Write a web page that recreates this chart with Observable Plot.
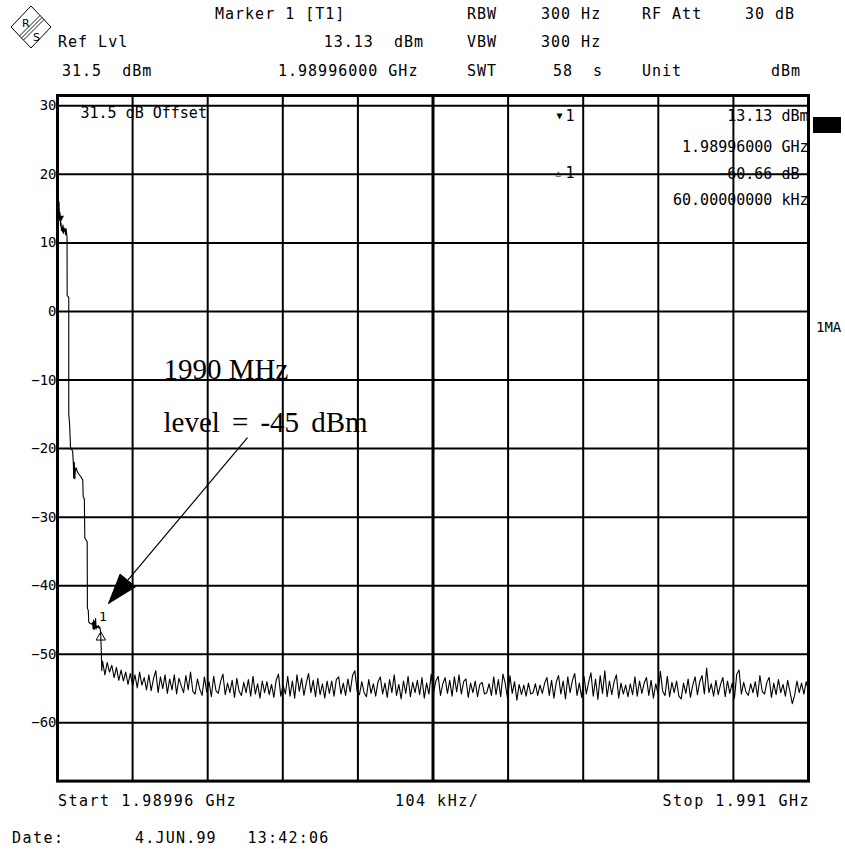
<!DOCTYPE html>
<html>
<head>
<meta charset="utf-8">
<script src="https://cdn.jsdelivr.net/npm/d3@7"></script>
<script src="https://cdn.jsdelivr.net/npm/@observablehq/plot@0.6"></script>
<style>
  html, body { margin: 0; padding: 0; background: #fff; }
  #page { position: relative; width: 845px; height: 849px; overflow: hidden; background: #fff; }
  #chart { position: absolute; left: 0; top: 85px; }
  #layer { position: absolute; left: 0; top: 0; width: 845px; height: 849px; pointer-events: none; }
  #layer span { position: absolute; white-space: pre; color: #000; }
  g[aria-label="readout"] text { letter-spacing: 1px; }
</style>
</head>
<body>
<div id="page">
  <div id="chart"></div>
  <div id="layer"></div>
</div>
<script>
// ---------------- data ----------------
const START_GHZ = 1.98996;
const STOP_GHZ = 1.991;
const SPAN_KHZ = 1040;          // 104 kHz / div
const REF_LVL_DBM = 31.5;
const RANGE_DB = 100;

const yTicks = [30, 20, 10, 0, -10, -20, -30, -40, -50, -60];
const xDivisionsKHz = [0, 104, 208, 312, 416, 520, 624, 728, 832, 936, 1040];
const centerDivKHz = [520];

// carrier roll-off near the start frequency (offset from start, kHz / level, dBm)
const rolloffKHz = [0, 0.7, 1.4, 2.1, 2.8, 3.5, 4.2, 4.9, 5.5, 6.2, 6.9, 7.6, 8.3, 9.0, 9.7, 10.4, 11.1, 11.8, 12.5, 13.2,
  13.4, 14.5, 15.6, 15.6, 16.8, 18.0, 19.5, 21.0, 22.0, 22.4, 23.2, 24.0, 24.8, 25.8, 27.5, 29.5, 31.5, 33.5, 35.0,
  35.6, 37.2, 37.8, 40.0, 41.1, 41.4, 42.6, 43.3, 45.0, 47.0, 48.6, 49.3, 50.0, 50.7, 51.4, 52.1, 52.8, 53.5, 54.5,
  55.5, 56.5, 57.5, 58.5, 59.4, 60.0, 60.6, 61.3];
const rolloffDbm = [14.0, 17.0, 13.13, 16.0, 13.6, 14.4, 12.5, 12.9, 11.8, 12.3, 11.6, 12.6, 11.4, 12.2, 11.7, 12.0, 11.2, 12.1, 11.5, 10.8,
  2.3, 2.2, 2.0, -15.0, -16.5, -19.8, -20.1, -20.4, -22.3, -24.3, -22.0, -24.4, -23.0, -22.8, -23.4, -23.7, -24.0, -24.3, -24.6,
  -27.0, -27.4, -33.0, -33.4, -33.6, -43.3, -43.6, -45.3, -45.5, -45.6, -45.4, -46.3, -45.0, -46.4, -45.2, -46.2, -44.8, -46.3, -45.9,
  -46.1, -45.8, -46.2, -46.0, -46.5, -47.53, -49.5, -52.4];

// noise floor, sweep points from 62.4 kHz to the stop frequency (dBm)
const noiseStartKHz = 62.4;
const noiseDbm = [
  -51.0,-53.0,-51.2,-52.6,-51.6,-53.4,-51.9,-53.8,-52.3,-53.9,
  -52.6,-54.4,-52.8,-54.6,-53.0,-54.9,-52.6,-54.5,-53.4,-55.2,
  -53.0,-55.3,-53.6,-52.4,-55.6,-53.3,-55.0,-53.0,-55.7,-53.6,
  -55.2,-53.0,-55.8,-53.5,-54.6,-55.6,-53.1,-55.2,-52.6,-55.4,
  -55.8,-53.6,-55.1,-56.0,-53.3,-55.5,-54.0,-56.2,-53.2,-55.3,
  -55.7,-54.0,-52.9,-55.9,-54.2,-55.6,-53.8,-56.3,-53.5,-55.4,
  -56.0,-54.1,-55.6,-53.7,-56.1,-53.2,-55.8,-54.3,-56.4,-53.9,
  -55.6,-54.0,-55.9,-54.4,-56.3,-53.8,-52.9,-56.1,-54.5,-55.8,
  -53.2,-56.1,-53.9,-56.4,-53.0,-55.4,-53.5,-56.0,-54.2,-52.8,
  -55.6,-53.8,-56.2,-53.5,-55.9,-54.3,-56.4,-53.9,-55.7,-53.9,
  -56.1,-53.7,-53.3,-55.8,-54.2,-56.0,-53.6,-55.5,-53.1,-52.4,
  -55.4,-55.9,-54.0,-55.6,-56.2,-53.7,-55.7,-54.3,-56.1,-54.0,
  -53.3,-55.8,-54.2,-56.3,-53.7,-55.6,-53.0,-56.0,-54.4,-56.5,
  -53.9,-55.7,-53.2,-56.2,-54.1,-55.6,-53.8,-55.9,-53.4,-56.4,
  -54.2,-55.8,-52.9,-55.6,-53.9,-53.2,-56.0,-54.3,-53.4,-55.7,
  -53.8,-56.1,-53.3,-55.5,-53.0,-55.8,-54.0,-53.6,-56.3,-54.2,
  -55.6,-53.9,-56.2,-54.4,-54.1,-55.8,-55.6,-54.3,-56.0,-53.3,
  -55.9,-53.7,-56.2,-52.9,-54.3,-56.5,-53.1,-55.7,-54.0,-56.7,
  -54.4,-55.9,-54.5,-56.1,-54.2,-55.8,-55.6,-54.3,-56.0,-54.5,
  -55.7,-54.2,-53.4,-56.0,-53.8,-56.4,-54.1,-53.1,-55.8,-53.9,
  -56.5,-53.3,-55.6,-53.8,-52.8,-56.0,-54.2,-56.3,-53.2,-55.8,
  -54.1,-52.7,-56.1,-53.6,-56.6,-53.1,-55.7,-52.4,-56.2,-53.9,
  -55.9,-54.0,-53.0,-56.4,-54.2,-55.8,-54.5,-56.2,-54.3,-55.9,
  -53.3,-56.1,-53.9,-55.7,-54.2,-53.4,-56.0,-53.8,-56.4,-54.3,
  -55.8,-52.5,-55.4,-56.0,-53.2,-56.2,-54.1,-55.6,-53.9,-56.1,
  -56.5,-54.2,-55.7,-53.6,-56.3,-54.5,-53.3,-55.9,-54.0,-53.1,
  -55.8,-52.0,-55.6,-54.3,-56.1,-53.8,-55.9,-54.4,-53.4,-56.2,
  -53.9,-55.7,-54.2,-56.4,-52.9,-52.3,-55.8,-54.1,-55.5,-56.0,
  -54.3,-55.6,-54.0,-56.2,-53.1,-55.4,-55.8,-54.1,-53.4,-56.3,
  -54.2,-55.9,-53.7,-55.6,-54.4,-56.1,-53.8,-55.5,-57.2,-56.0,
  -53.9,-55.6,-54.2,-55.8,-54.0,-55.4
];

// markers
const marker1 = {kHz: 0, dbm: 13.13, freqText: "1.98996000 GHz"};
const delta1 = {kHz: 60, db: -60.66, freqText: "60.00000000 kHz"};

// annotation (offset kHz / dBm)
const noteLine1 = "1990 MHz";
const noteLine2 = "level = -45 dBm";
const noteAnchor1 = [{kHz: 146.8, dbm: -9.8}];
const noteAnchor2 = [{kHz: 146.8, dbm: -17.65}];
const arrowShaft = [{x1: 263.1, y1: -18.4, x2: 97.4, y2: -39.2}];
const arrowHead = [{kHz: 70.6, dbm: -42.6}, {kHz: 108.0, dbm: -40.17}, {kHz: 86.7, dbm: -38.31}, {kHz: 70.6, dbm: -42.6}];

// ---------------- build ----------------
const noiseStep = (SPAN_KHZ - noiseStartKHz) / (noiseDbm.length - 1);
const trace = rolloffKHz.map((f, i) => ({f, v: rolloffDbm[i]}))
  .concat(noiseDbm.map((v, i) => ({f: noiseStartKHz + i * noiseStep, v})));

const innerDivs = xDivisionsKHz.filter(d => d > 0 && d < SPAN_KHZ && !centerDivKHz.includes(d));
const fmt2 = d3.format(".2f");
const minus = s => s.replace("-", "\u2212");
const wide = s => s.replace(/ /g, "\u2004\u200A");   // the typed annotation uses wider word gaps
const mono = "'DejaVu Sans Mono', monospace";
const serif = "'Liberation Serif', 'Times New Roman', serif";

const chart = Plot.plot({
  width: 845,
  height: 700,
  marginTop: 10,
  marginBottom: 4.4,
  marginLeft: 57,
  marginRight: 37,
  x: {domain: [0, SPAN_KHZ], axis: null},
  y: {domain: [REF_LVL_DBM - RANGE_DB, REF_LVL_DBM], ticks: yTicks, tickSize: 0, tickPadding: 1, label: null},
  style: {fontFamily: mono, fontSize: "14px", background: "white", color: "black", overflow: "visible"},
  marks: [
    Plot.ruleY(yTicks, {stroke: "black", strokeWidth: 2}),
    Plot.ruleX(innerDivs, {stroke: "black", strokeWidth: 2}),
    Plot.ruleX(centerDivKHz, {stroke: "black", strokeWidth: 3}),
    Plot.frame({stroke: "black", strokeWidth: 3}),
    Plot.line(trace, {x: "f", y: "v", stroke: "black", strokeWidth: 1.1}),
    // marker 1 (filled, pointing down)
    Plot.text([marker1], {x: "kHz", y: "dbm", text: () => "\u25BC", fontSize: 11, lineAnchor: "bottom", dx: 3, dy: 1}),
    // delta marker 1 (outline triangle) + label
    Plot.dot([delta1], {x: "kHz", y: d => marker1.dbm + d.db, symbol: "triangle", r: 3.5, stroke: "black", fill: "none", strokeWidth: 1}),
    Plot.text([delta1], {x: "kHz", y: d => marker1.dbm + d.db, text: () => "1", fontSize: 13, lineAnchor: "bottom", dx: 2, dy: -16, ariaLabel: "readout"}),
    // in-frame readouts
    Plot.text([`${REF_LVL_DBM} dB Offset`], {frameAnchor: "top-left", text: d => d, fontSize: 15, textAnchor: "start", lineAnchor: "bottom", dx: 23, dy: 22, ariaLabel: "readout"}),
    Plot.text(["\u25BC"], {frameAnchor: "top-left", text: d => d, fontSize: 10, textAnchor: "start", lineAnchor: "bottom", dx: 499, dy: 23}),
    Plot.text(["1"], {frameAnchor: "top-left", text: d => d, fontSize: 15, textAnchor: "start", lineAnchor: "bottom", dx: 508, dy: 25.5, ariaLabel: "readout"}),
    Plot.text(["\u25B3"], {frameAnchor: "top-left", text: d => d, fontSize: 9, textAnchor: "start", lineAnchor: "bottom", dx: 498, dy: 80}),
    Plot.text(["1"], {frameAnchor: "top-left", text: d => d, fontSize: 15, textAnchor: "start", lineAnchor: "bottom", dx: 508, dy: 82, ariaLabel: "readout"}),
    Plot.text([`${fmt2(marker1.dbm)} dBm`], {frameAnchor: "top-right", text: d => d, fontSize: 15, textAnchor: "end", lineAnchor: "bottom", dx: 0, dy: 25.5, ariaLabel: "readout"}),
    Plot.text([marker1.freqText], {frameAnchor: "top-right", text: d => d, fontSize: 15, textAnchor: "end", lineAnchor: "bottom", dx: 0, dy: 56, ariaLabel: "readout"}),
    Plot.text([`${minus(fmt2(delta1.db))} dB `], {frameAnchor: "top-right", text: d => d, fontSize: 15, textAnchor: "end", lineAnchor: "bottom", dx: 0, dy: 83, ariaLabel: "readout"}),
    Plot.text([delta1.freqText], {frameAnchor: "top-right", text: d => d, fontSize: 15, textAnchor: "end", lineAnchor: "bottom", dx: 0, dy: 109, ariaLabel: "readout"}),
    // annotation
    Plot.text(noteAnchor1, {x: "kHz", y: "dbm", text: () => noteLine1, fontFamily: serif, fontSize: 29, textAnchor: "start", lineAnchor: "bottom", ariaLabel: "annotation"}),
    Plot.text(noteAnchor2, {x: "kHz", y: "dbm", text: () => wide(noteLine2), fontFamily: serif, fontSize: 29, textAnchor: "start", lineAnchor: "bottom", ariaLabel: "annotation"}),
    Plot.link(arrowShaft, {x1: "x1", y1: "y1", x2: "x2", y2: "y2", stroke: "black", strokeWidth: 1.2}),
    Plot.line(arrowHead, {x: "kHz", y: "dbm", stroke: "black", fill: "black", strokeWidth: 1})
  ]
});
document.getElementById("chart").appendChild(chart);

// ---------------- header / footer text ----------------
const layer = document.getElementById("layer");
function put(text, x, base, anchor = "start", size = 15, spacing = 1) {
  const s = document.createElement("span");
  s.textContent = text;
  s.style.fontFamily = mono;
  s.style.fontSize = size + "px";
  s.style.lineHeight = size + "px";
  s.style.letterSpacing = spacing + "px";
  s.style.top = (base - 0.846 * size) + "px";
  if (anchor === "end") s.style.right = (845 - x) + "px"; else s.style.left = x + "px";
  layer.appendChild(s);
}
// header
put("Marker 1 [T1]", 215, 20);
put("RBW", 467, 20);
put("300 Hz", 541, 20);
put("RF Att", 642, 20);
put("30 dB", 745, 20);
put("Ref Lvl", 58, 48);
put(`${fmt2(marker1.dbm)}  dBm`, 424, 48, "end");
put("VBW", 467, 48);
put("300 Hz", 541, 48);
put(`${REF_LVL_DBM}  dBm`, 62, 77);
put(marker1.freqText, 278, 77);
put("SWT", 467, 77);
put("58  s", 553, 77);
put("Unit", 642, 77);
put("dBm", 801, 77, "end");
// right side
put("1MA", 816, 332, "start", 14, 0);
const box = document.createElement("div");
box.style.cssText = "position:absolute;left:813px;top:117px;width:28px;height:16px;background:#000;";
layer.appendChild(box);
// footer
put(`Start ${START_GHZ} GHz`, 58, 807, "start", 15, 1.5);
put("104 kHz/", 395, 807, "start", 15, 1.5);
put(`Stop ${STOP_GHZ} GHz`, 810, 807, "end", 15, 1.5);
put("Date:", 12, 844, "start", 15, 1.5);
put("4.JUN.99   13:42:06", 135, 844, "start", 15, 1.2);

// R&S logo
const ns = "http://www.w3.org/2000/svg";
const logo = document.createElementNS(ns, "svg");
logo.setAttribute("width", "60"); logo.setAttribute("height", "56");
logo.style.cssText = "position:absolute;left:0;top:0;";
logo.innerHTML = `
  <polygon points="31,6 51,27 31,48 11,27" fill="none" stroke="#000" stroke-width="1"/>
  <line x1="40" y1="15.5" x2="19.5" y2="36" stroke="#000" stroke-width="0.9"/>
  <line x1="42" y1="17.5" x2="21.5" y2="38" stroke="#000" stroke-width="0.9"/>
  <line x1="44" y1="19.5" x2="23.5" y2="40" stroke="#000" stroke-width="0.9"/>
  <text x="22" y="27" font-family="DejaVu Sans" font-size="11">R</text>
  <text x="33" y="41" font-family="DejaVu Sans" font-size="11">S</text>`;
layer.appendChild(logo);
</script>
</body>
</html>
